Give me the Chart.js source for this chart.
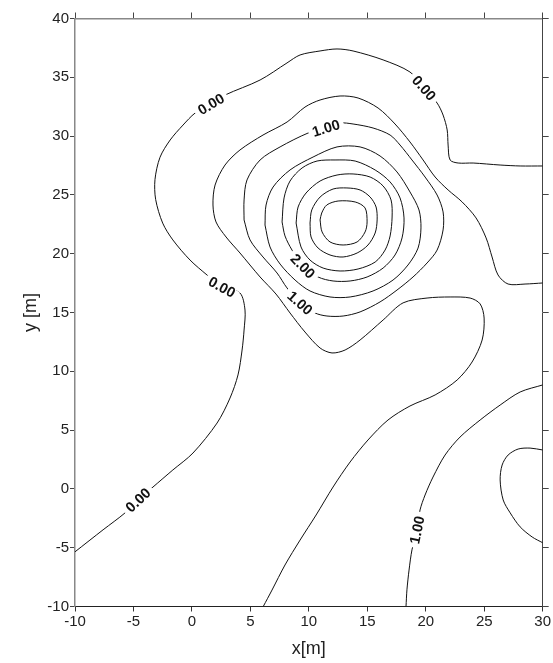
<!DOCTYPE html>
<html><head><meta charset="utf-8">
<script src="https://cdn.jsdelivr.net/npm/chart.js@4/dist/chart.umd.min.js"></script>
<style>html,body{margin:0;padding:0;background:#fff}#wrap{width:553px;height:663px;position:relative}</style>
</head><body><div id="wrap"><canvas id="c"></canvas></div>
<script>
// ---- axis ticks ----
const xTicks = [-10, -5, 0, 5, 10, 15, 20, 25, 30];
const yTicks = [-10, -5, 0, 5, 10, 15, 20, 25, 30, 35, 40];

// ---- contour lines, [x, y] in metres ----
const contour000 = [[30,27.46],[28.07,27.46],[26.36,27.54],[24.05,27.71],[22.77,27.71],[22.08,27.97],[21.91,29.24],[21.83,30.52],[21.48,31.79],[20.97,32.81],[19.86,34.09],[18.65,35.45],[16.35,36.48],[13.78,37.24],[12.41,37.41],[10.96,37.24],[9.25,36.90],[8.13,36.22],[5.83,34.77],[2.83,33.49],[1.63,32.73],[0.27,31.96],[-0.76,30.94],[-1.86,29.67],[-2.73,28.2],[-3.16,26.3],[-3.1,24.6],[-2.5,22.6],[-1.63,21.17],[-0.16,19.46],[1.29,18.19],[2.57,17.17],[4.11,16.66],[4.54,15.21],[4.46,13.51],[4.29,11.81],[3.94,9.69],[3.26,7.73],[2.15,5.60],[0.09,3.05],[-1.63,1.61],[-3.33,0.16],[-4.61,-0.94],[-5.72,-2.04],[-7.60,-3.48],[-10,-5.35]];
const contour050 = [[30,17.51],[28.49,17.42],[27.04,17.42],[26.18,18.19],[25.67,19.72],[25.16,21.34],[24.30,23.04],[23.11,24.40],[21.91,25.42],[20.80,26.52],[19.77,27.97],[18.65,29.50],[17.37,31.03],[15.92,32.39],[14.21,33.24],[12.67,33.41],[10.96,33.07],[9.67,32.47],[8.14,31.20],[6.08,30.09],[4.11,28.82],[2.83,27.54],[1.98,25.84],[1.80,24.14],[2.06,22.70],[2.92,21.42],[4.11,20.06],[5.83,18.02],[7.19,16.57],[8.39,14.96],[9.67,13.34],[10.96,11.98],[11.98,11.56],[13.10,11.81],[14.38,12.66],[16.35,14.36],[18.06,15.82],[20.11,16.23],[22.08,16.32],[23.79,16.23],[24.65,15.73],[24.99,14.53],[24.82,12.66],[23.96,10.79],[22.68,9.26],[20.80,7.99],[18.65,7.05],[16.77,5.86],[15.06,4.16],[13.53,2.29],[12.07,0.16],[10.62,-2.22],[9.25,-4.35],[7.96,-6.47],[6.85,-8.60],[6.1,-10]];
const contour100 = [[4.46,22.87],[4.46,24.57],[4.71,26.27],[5.83,27.97],[7.54,29.08],[9.93,30.26],[11.47,30.69],[12.67,31.11],[13.78,31.03],[15.49,30.69],[16.95,30.09],[17.80,29.24],[18.82,27.97],[19.94,26.52],[20.97,24.99],[21.48,23.55],[21.48,22.02],[20.97,20.31],[20.11,19.21],[18.91,18.02],[17.54,16.91],[16.09,15.90],[14.38,15.05],[12.93,14.70],[11.55,14.70],[10.53,14.96],[9.25,15.82],[8.13,17.09],[7.28,18.36],[6.08,19.72],[4.97,21.17],[4.46,22.87]];
const contour100b = [[30,8.84],[28.07,8.24],[26.36,7.13],[24.65,5.86],[22.93,4.41],[21.65,2.88],[20.62,1.01],[19.94,-0.52],[19.51,-1.79],[19.25,-3.48],[18.82,-5.18],[18.57,-6.90],[18.39,-8.58],[18.31,-10]];
const contour150 = [[6.25,22.44],[6.34,24.14],[6.94,25.67],[8.39,27.12],[10.36,28.22],[12.41,29.08],[14.38,29.08],[16.09,28.31],[17.54,26.95],[18.65,25.25],[19.42,23.72],[19.59,22.19],[19.34,20.48],[18.48,19.04],[17.20,17.76],[15.49,16.83],[13.53,16.32],[11.81,16.32],[10.10,16.83],[8.82,17.76],[7.54,19.12],[6.68,20.57],[6.25,22.44]];
const contour150b = [[30,3.31],[28.92,3.47],[27.90,3.39],[27.04,2.88],[26.53,2.03],[26.36,0.76],[26.62,-0.94],[27.22,-2.04],[28.07,-3.23],[29.10,-4.09],[30,-4.58]];
const contour200 = [[7.71,22.70],[7.88,24.74],[8.39,26.18],[9.42,27.29],[10.70,27.88],[12.24,27.97],[13.96,27.88],[15.67,27.12],[16.95,26.10],[17.80,24.74],[18.14,23.04],[17.97,21.34],[17.37,19.89],[16.35,18.78],[14.98,18.02],[13.53,17.68],[12.07,17.68],[10.79,18.02],[9.50,18.95],[8.56,20.31],[7.96,21.51],[7.71,22.70]];
const contour250 = [[8.91,22.61],[9.08,23.97],[9.76,25.16],[10.96,26.18],[12.41,26.69],[13.78,26.78],[15.24,26.52],[16.35,25.76],[17.03,24.57],[17.12,23.12],[16.95,21.51],[16.52,20.31],[15.67,19.29],[14.21,18.70],[12.67,18.53],[11.22,18.78],[10.10,19.46],[9.33,20.57],[8.91,22.61]];
const contour300 = [[10.10,22.61],[10.25,23.72],[10.96,24.82],[12.07,25.50],[13.26,25.59],[14.38,25.42],[15.24,24.82],[15.75,23.97],[15.84,22.87],[15.67,21.76],[15.06,20.74],[14.13,20.06],[12.93,19.72],[11.81,19.89],[10.79,20.48],[10.19,21.42],[10.10,22.61]];
const contour350 = [[10.96,22.87],[11.10,23.46],[11.53,24.14],[12.50,24.48],[13.96,24.40],[14.81,23.89],[14.98,22.70],[14.81,21.85],[14.13,21.00],[12.93,20.74],[11.81,21.00],[11.13,21.85],[10.96,22.87]];

// ---- contour labels ----
const labelTexts = ['0.00', '0.00', '0.00', '0.00', '1.00', '1.00', '2.00', '1.00'];
const labelX = [1.63, 19.86, 2.57, -4.61, 11.47, 9.25, 9.50, 19.25];
const labelY = [32.73, 34.09, 17.17, -0.94, 30.69, 15.82, 18.95, -3.48];
const labelLines = [contour000, contour000, contour000, contour000, contour100, contour100, contour200, contour100b];

const allContours = [contour000, contour050, contour100, contour100b, contour150, contour150b, contour200, contour250, contour300, contour350];

const FONT = '"Liberation Sans", Arial, Helvetica, sans-serif';

const labelPlugin = {
  id: 'contourLabels',
  afterDatasetsDraw(chart) {
    const {ctx, chartArea} = chart;
    const sx = chart.scales.x, sy = chart.scales.y;
    ctx.save();
    ctx.beginPath();
    ctx.rect(chartArea.left, chartArea.top, chartArea.right - chartArea.left, chartArea.bottom - chartArea.top);
    ctx.clip();
    ctx.font = 'bold 14.5px ' + FONT;
    ctx.textAlign = 'center';
    ctx.textBaseline = 'middle';
    labelTexts.forEach((t, i) => {
      const px = sx.getPixelForValue(labelX[i]);
      const py = sy.getPixelForValue(labelY[i]);
      const line = labelLines[i].map(p => [sx.getPixelForValue(p[0]), sy.getPixelForValue(p[1])]);
      let best = 0, bd = Infinity;
      line.forEach((p, k) => { const d = (p[0]-px)**2 + (p[1]-py)**2; if (d < bd) { bd = d; best = k; } });
      const a = line[Math.max(0, best - 1)], b = line[Math.min(line.length - 1, best + 1)];
      let ang = Math.atan2(b[1] - a[1], b[0] - a[0]);
      if (ang > Math.PI / 2) ang -= Math.PI;
      if (ang <= -Math.PI / 2) ang += Math.PI;
      ctx.save();
      ctx.translate(px, py);
      ctx.rotate(ang);
      const w = ctx.measureText(t).width;
      ctx.fillStyle = '#fff';
      ctx.fillRect(-w / 2 - 4, -4, w + 8, 8);
      ctx.fillStyle = '#111';
      ctx.fillText(t, 0, 1);
      ctx.restore();
    });
    ctx.restore();
  }
};

const tickFont = {family: FONT, size: 15};

new Chart(document.getElementById('c'), {
  type: 'scatter',
  data: {
    datasets: allContours.map(pts => ({
      data: pts.map(p => ({x: p[0], y: p[1]})),
      showLine: true,
      borderColor: '#111',
      borderWidth: 1,
      pointRadius: 0,
      tension: 0.3,
      fill: false
    }))
  },
  options: {
    responsive: true,
    maintainAspectRatio: false,
    animation: false,
    layout: {padding: 0},
    plugins: {legend: {display: false}, tooltip: {enabled: false}},
    scales: {
      x: {
        type: 'linear', position: 'bottom', min: -10, max: 30,
        afterBuildTicks: s => { s.ticks = xTicks.map(v => ({value: v})); },
        ticks: {font: tickFont, color: '#222', padding: 1, maxRotation: 0, autoSkip: false},
        grid: {drawOnChartArea: false, drawTicks: true, tickLength: 5, color: '#333'},
        border: {color: '#222', width: 1},
        title: {display: true, text: 'x[m]', color: '#222', font: {family: FONT, size: 18}, padding: {top: 0, bottom: 3}},
        afterFit: s => { s.height = 56.5; }
      },
      y: {
        type: 'linear', position: 'left', min: -10, max: 40,
        afterBuildTicks: s => { s.ticks = yTicks.map(v => ({value: v})); },
        ticks: {font: tickFont, color: '#222', padding: 1, autoSkip: false},
        grid: {drawOnChartArea: false, drawTicks: true, tickLength: 5, color: '#444'},
        border: {color: '#888', width: 1.5},
        title: {display: true, text: 'y [m]', color: '#222', font: {family: FONT, size: 18}, padding: {top: 20, bottom: 0}},
        afterFit: s => { s.width = 75; }
      },
      x2: {
        type: 'linear', position: 'top', min: -10, max: 30,
        afterBuildTicks: s => { s.ticks = xTicks.map(v => ({value: v})); },
        ticks: {display: false},
        grid: {drawOnChartArea: false, drawTicks: true, tickLength: 6, color: '#444'},
        border: {color: '#888', width: 1.5},
        afterFit: s => { s.height = 18.5; }
      },
      y2: {
        type: 'linear', position: 'right', min: -10, max: 40,
        afterBuildTicks: s => { s.ticks = yTicks.map(v => ({value: v})); },
        ticks: {display: false},
        grid: {drawOnChartArea: false, drawTicks: true, tickLength: 6, color: '#444'},
        border: {color: '#444', width: 1},
        afterFit: s => { s.width = 10.3; }
      }
    }
  },
  plugins: [labelPlugin]
});
</script>
</body></html>
